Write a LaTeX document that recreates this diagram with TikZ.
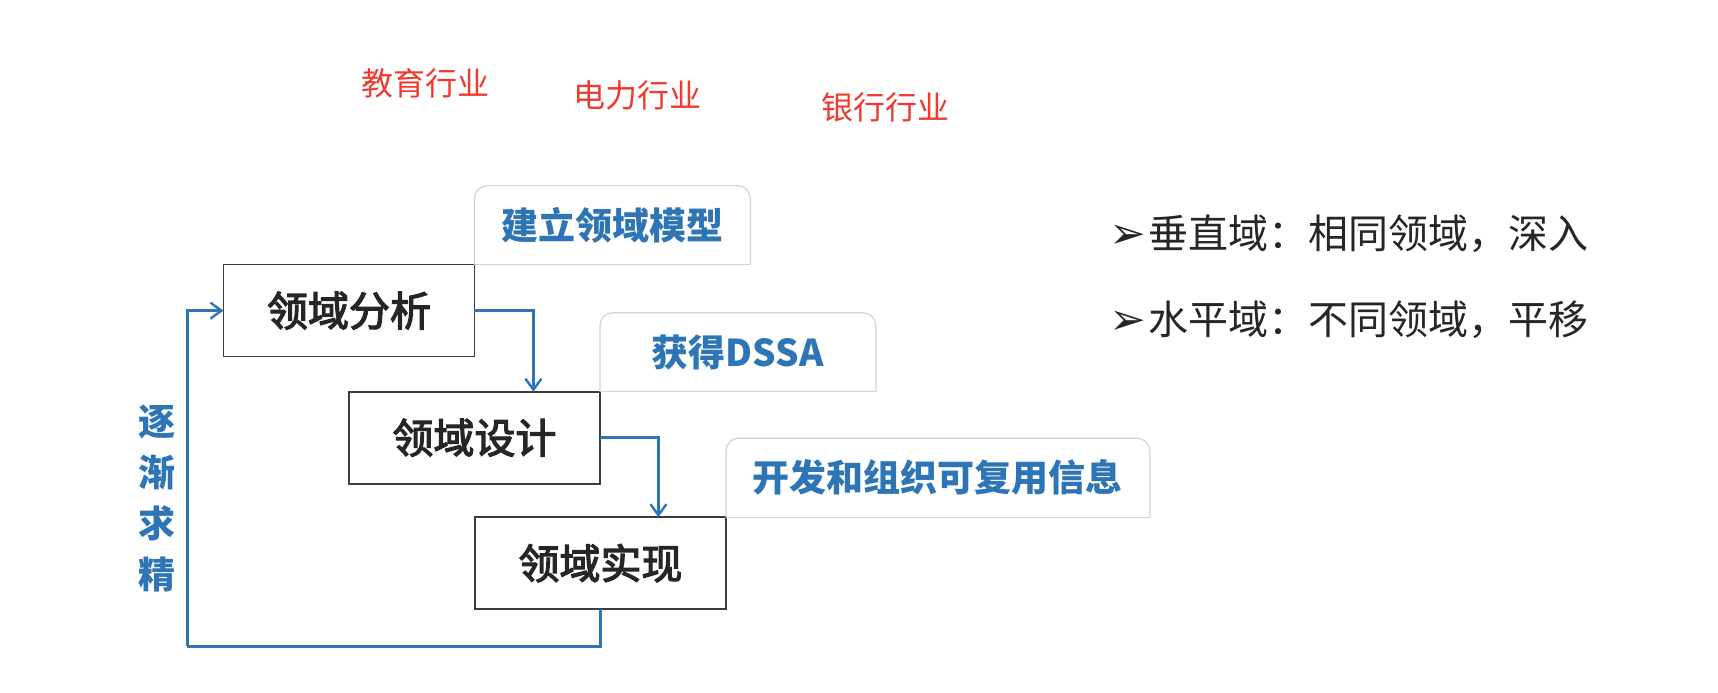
\documentclass[tikz,border=0pt]{standalone}
\usepackage{fontspec}
\newfontfamily\cjk{Noto Sans CJK SC}
\newfontfamily\cjkmed[FakeBold=3]{Noto Sans CJK SC}
\newfontfamily\symf{DejaVu Sans}
\usetikzlibrary{arrows.meta}
\definecolor{flowblue}{HTML}{2E75B6}
\definecolor{indred}{HTML}{EE3B2F}
\definecolor{tagedge}{HTML}{D4D4D4}
\definecolor{boxedge}{HTML}{3C3C3C}
\begin{document}
\begin{tikzpicture}[x=1.0957pt,y=-1.0957pt,
  stepbox/.style={draw=boxedge, line width=1.6pt, fill=white, inner sep=0pt, outer sep=0pt,
    minimum width=251pt, minimum height=92pt, text=black!85,
    font=\cjkmed\fontsize{41}{48}\selectfont},
  tagbox/.style={inner sep=0pt, outer sep=0pt, anchor=south west, minimum height=79pt,
    text=flowblue, font=\cjk\bfseries\fontsize{37}{44}\selectfont},
  tagline/.style={draw=tagedge, line width=1.2pt},
  flow/.style={draw=flowblue, line width=2.6pt, -{Straight Barb[length=11pt,width=16pt,line width=2.4pt]}},
  loopline/.style={draw=flowblue, line width=2.6pt},
  industry/.style={text=indred, font=\cjk\fontsize{32}{38}\selectfont},
  bullettext/.style={anchor=west, text=black!85, font=\cjk\fontsize{40}{48}\selectfont}
]
\useasboundingbox[fill=white] (0,0) rectangle (1568,632);

% industry labels
\node[industry] (ind1) at (388,76) {教育行业};
\node[industry] (ind2) at (582,87) {电力行业};
\node[industry] (ind3) at (808,98) {银行行业};

% main boxes
\node[stepbox] (b1) at (318.5,283.5) {领域分析};
\node[stepbox] (b2) at (433,399.5) {领域设计};
\node[stepbox] (b3) at (548,514) {领域实现};

% tags
\node[tagbox, minimum width=276pt] (t1) at (b1.north east) {\raisebox{-4pt}{建立领域模型}};
\node[tagbox, minimum width=276pt] (t2) at (b2.north east) {\raisebox{-4pt}{获得DSSA}};
\node[tagbox, minimum width=424pt] (t3) at (b3.north east) {\raisebox{-4pt}{开发和组织可复用信息}};
\foreach \t in {t1,t2,t3}{
  \draw[tagline, rounded corners=13pt] (\t.south west) -- (\t.north west) -- (\t.north east) -- (\t.south east);
  \draw[tagline] (\t.south west) -- (\t.south east);
}

% connectors
\draw[flow] (b1.east) -| ([xshift=59pt]b2.north);
\draw[flow] (b2.east) -| ([xshift=58pt]b3.north);
\coordinate (loopc) at (171,590);
\draw[loopline] (b3.south) |- (loopc);
\draw[flow] (loopc) |- (b1.west);

% vertical label
\node[text=flowblue, align=center, font=\cjk\bfseries\fontsize{37}{51}\selectfont] (refine) at (143,455) {逐\\渐\\求\\精};

% right-hand bullets
\node[bullettext] (r1) at (1009,213) {{\symf\fontsize{44}{48}\selectfont ➢}\hspace{3pt}垂直域：相同领域，深入};
\node[bullettext] (r2) at (1009,292) {{\symf\fontsize{44}{48}\selectfont ➢}\hspace{3pt}水平域：不同领域，平移};
\end{tikzpicture}
\end{document}
